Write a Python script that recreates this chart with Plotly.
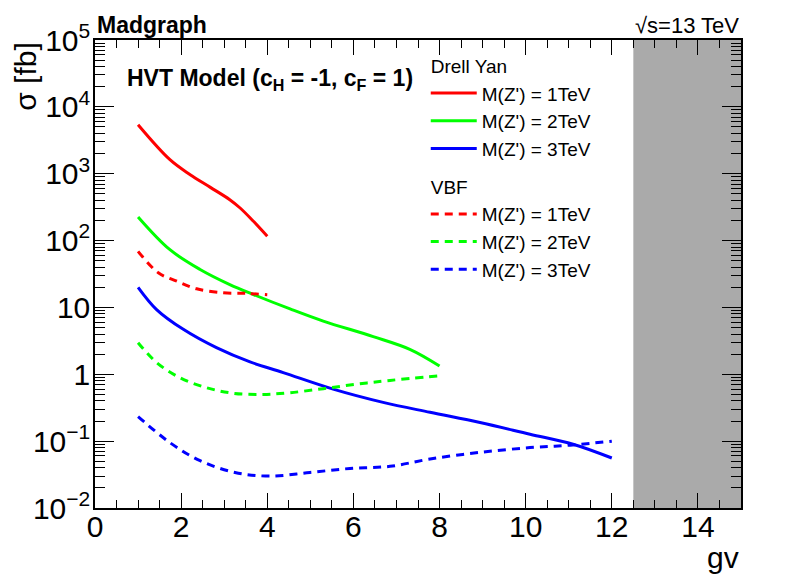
import plotly.graph_objects as go

# Drell Yan production, sigma [fb] vs gv
dy1_gv = [1.0, 1.74, 2.21, 2.67, 3.13, 3.37, 3.68, 4.0]
dy1_xs = [5400, 1620, 966, 630, 409, 307, 194, 116]

dy2_gv = [1.0, 1.74, 2.44, 3.13, 3.68, 4.53, 5.3, 6.46, 7.31, 8.0]
dy2_xs = [226, 73, 37, 22, 15.6, 9.5, 6.25, 3.66, 2.36, 1.33]

dy3_gv = [1.0, 1.43, 2.05, 2.82, 3.6, 4.37, 5.53, 6.69, 7.78, 8.94, 10.1, 11.1, 12.0]
dy3_xs = [20, 9.3, 4.7, 2.5, 1.53, 1.06, 0.60, 0.38, 0.27, 0.19, 0.127, 0.09, 0.056]

# VBF production
vbf1_gv = [1.0, 1.47, 1.9, 2.36, 2.98, 3.52, 4.0]
vbf1_xs = [69, 33, 24.7, 19, 16.6, 16.2, 15.5]

vbf2_gv = [1.0, 1.43, 1.97, 2.59, 3.21, 3.91, 4.53, 5.3, 6.07, 6.85, 8.0]
vbf2_xs = [2.97, 1.5, 0.89, 0.63, 0.52, 0.50, 0.53, 0.61, 0.71, 0.81, 0.95]

vbf3_gv = [1.0, 1.74, 2.44, 3.25, 4.06, 4.99, 5.92, 6.85, 7.78, 8.94, 10.1, 11.03, 12.0]
vbf3_xs = [0.233, 0.095, 0.051, 0.034, 0.030, 0.034, 0.039, 0.042, 0.054, 0.068, 0.080, 0.087, 0.1]

masses = ["1TeV", "2TeV", "3TeV"]
colors = ["#ff0000", "#00ff00", "#0000ff"]

# excluded region
excl_lo, excl_hi = 12.5, 15.0

ytick_vals = [1e-2, 1e-1, 1, 10, 1e2, 1e3, 1e4, 1e5]
ytick_text = ["10<sup>\u22122</sup>", "10<sup>\u22121</sup>", "1", "10",
              "10<sup>2</sup>", "10<sup>3</sup>", "10<sup>4</sup>", "10<sup>5</sup>"]

FONT = "Liberation Sans, Arial, sans-serif"

fig = go.Figure()

dy = [(dy1_gv, dy1_xs), (dy2_gv, dy2_xs), (dy3_gv, dy3_xs)]
vbf = [(vbf1_gv, vbf1_xs), (vbf2_gv, vbf2_xs), (vbf3_gv, vbf3_xs)]

for (gv, xs), m, c in zip(dy, masses, colors):
    fig.add_trace(go.Scatter(
        x=gv, y=xs, mode="lines", name=f"M(Z') = {m}",
        line=dict(color=c, width=3, shape="spline"),
        legendgroup="dy", legendgrouptitle_text="Drell Yan",
    ))

for (gv, xs), m, c in zip(vbf, masses, colors):
    fig.add_trace(go.Scatter(
        x=gv, y=xs, mode="lines", name=f"M(Z') = {m}",
        line=dict(color=c, width=3, shape="spline", dash="8px,6px"),
        legendgroup="vbf", legendgrouptitle_text="VBF",
    ))

fig.add_vrect(x0=excl_lo, x1=excl_hi, fillcolor="#aaaaaa", line_width=0,
              layer="below", opacity=1)

fig.update_xaxes(
    range=[0, 15], dtick=2, showgrid=False, zeroline=False,
    showline=True, linecolor="black", linewidth=1.5, mirror="allticks",
    ticks="inside", ticklen=15, tickwidth=1.2, tickcolor="black",
    minor=dict(ticks="inside", dtick=0.5, ticklen=8, tickwidth=1.2, tickcolor="black", showgrid=False),
    tickfont=dict(family=FONT, size=30, color="black"),
    ticklabelstandoff=-9,
)
fig.update_yaxes(
    type="log", range=[-2, 5], showgrid=False, zeroline=False,
    tickmode="array", tickvals=ytick_vals, ticktext=ytick_text,
    showline=True, linecolor="black", linewidth=1.5, mirror="allticks",
    ticks="inside", ticklen=19, tickwidth=1.2, tickcolor="black",
    minor=dict(ticks="inside", dtick="D1", ticklen=10, tickwidth=1.2, tickcolor="black", showgrid=False),
    tickfont=dict(family=FONT, size=30, color="black"),
    ticklabelstandoff=-3,
)

# page body adds ~8px offset, so the figure is a bit smaller than the window
fig.update_layout(
    width=780, height=569,
    margin=dict(l=87, r=47, t=32, b=69),
    plot_bgcolor="white", paper_bgcolor="white",
    font=dict(family=FONT, color="black"),
    showlegend=True,
    legend=dict(
        x=0.512, y=0.986, xanchor="left", yanchor="top",
        bgcolor="rgba(0,0,0,0)", borderwidth=0,
        font=dict(family=FONT, size=19, color="black"),
        grouptitlefont=dict(family=FONT, size=19, color="black"),
        traceorder="grouped", tracegroupgap=10, itemwidth=46,
    ),
    annotations=[
        dict(text="<b>Madgraph</b>", x=0, y=1.0, xref="paper", yref="paper",
             xanchor="left", yanchor="bottom", showarrow=False,
             font=dict(family=FONT, size=23, color="black")),
        dict(text="\u221as=13 TeV", x=1.0, y=1.0, xref="paper", yref="paper",
             xanchor="right", yanchor="bottom", showarrow=False,
             font=dict(family=FONT, size=22, color="black")),
        dict(text="<b>HVT Model (c<sub>H</sub> = -1, c<sub>F</sub> = 1)</b>",
             x=0.046, y=0.916, xref="paper", yref="paper",
             xanchor="left", yanchor="middle", showarrow=False,
             font=dict(family=FONT, size=23, color="black")),
        dict(text="\u03c3 [fb]", x=-0.108, y=1.0, xref="paper", yref="paper",
             xanchor="center", yanchor="top", textangle=-90, showarrow=False,
             font=dict(family=FONT, size=30, color="black")),
        dict(text="gv", x=1.0, y=-0.105, xref="paper", yref="paper",
             xanchor="right", yanchor="middle", showarrow=False,
             font=dict(family=FONT, size=30, color="black")),
    ],
)

fig.write_html("out.html")
